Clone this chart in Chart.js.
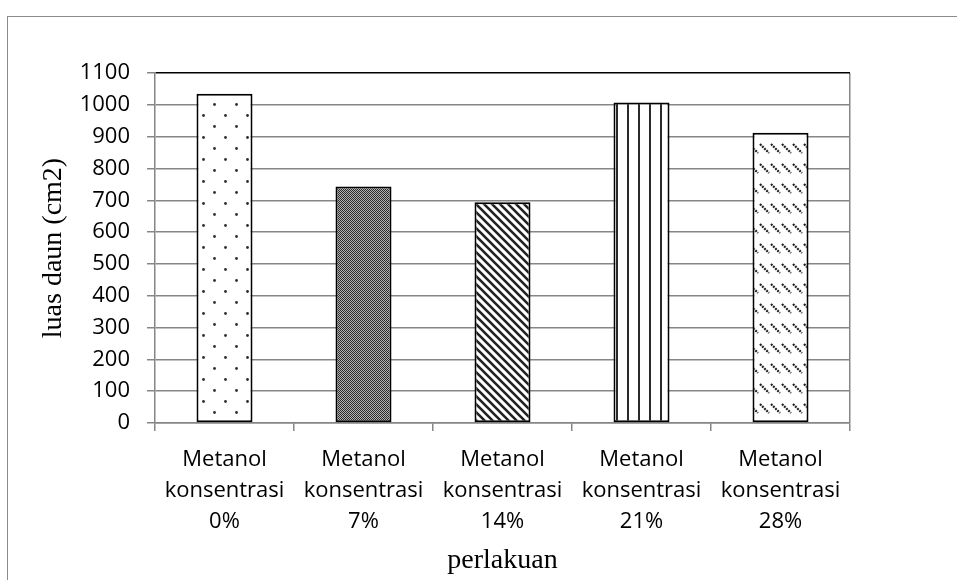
<!DOCTYPE html>
<html>
<head>
<meta charset="utf-8">
<script src="https://cdn.jsdelivr.net/npm/chart.js@4/dist/chart.umd.min.js"></script>
<style>
  html, body { margin: 0; padding: 0; background: #fff; overflow: hidden; }
  #frame { position: absolute; left: 7px; top: 16px; width: 2000px; height: 2000px; border: 1.5px solid #8c8c8c; }
  #wrap { position: absolute; left: 0; top: 0; width: 957px; height: 580px; }
</style>
</head>
<body>
<div id="frame"></div>
<div id="wrap"><canvas id="chart" width="957" height="580"></canvas></div>
<script>
// data
const categories = [
  ['Metanol', 'konsentrasi', '0%'],
  ['Metanol', 'konsentrasi', '7%'],
  ['Metanol', 'konsentrasi', '14%'],
  ['Metanol', 'konsentrasi', '21%'],
  ['Metanol', 'konsentrasi', '28%']
];
const luasDaun = [1035, 743, 694, 1007, 912];
const yMin = 0;
const yMax = 1100;
const yStep = 100;

const gridGray = '#868686';

// small canvas fill patterns like the excel ones
function makePattern(w, h, draw) {
  const c = document.createElement('canvas');
  c.width = w;
  c.height = h;
  const g = c.getContext('2d');
  g.fillStyle = '#fff';
  g.fillRect(0, 0, w, h);
  draw(g);
  return g.createPattern(c, 'repeat');
}

const dots = makePattern(22, 22, g => {
  g.fillStyle = '#2e2e2e';
  g.beginPath(); g.arc(5.5, 5.5, 1.4, 0, Math.PI * 2); g.fill();
  g.beginPath(); g.arc(16.5, 16.5, 1.4, 0, Math.PI * 2); g.fill();
});

const check = makePattern(2, 2, g => {
  g.fillStyle = '#b5b5b5';
  g.fillRect(0, 0, 2, 2);
  g.fillStyle = '#2a2a2a';
  g.fillRect(0, 0, 1, 1);
  g.fillRect(1, 1, 1, 1);
});

const diag = makePattern(8, 8, g => {
  g.strokeStyle = '#222';
  g.lineWidth = 2.6;
  g.beginPath();
  g.moveTo(-2, -2); g.lineTo(10, 10);
  g.moveTo(-10, -2); g.lineTo(2, 10);
  g.moveTo(6, -2); g.lineTo(18, 10);
  g.stroke();
});

const vert = makePattern(11, 11, g => {
  g.fillStyle = '#2a2a2a';
  g.fillRect(0, 0, 2, 11);
});

const dashDiag = makePattern(11, 20, g => {
  g.strokeStyle = '#222';
  g.lineWidth = 2.2;
  g.setLineDash([2, 1]);
  g.beginPath();
  g.moveTo(1, 4); g.lineTo(10, 13);
  g.stroke();
});

const ctx = document.getElementById('chart').getContext('2d');
new Chart(ctx, {
  type: 'bar',
  data: {
    labels: categories,
    datasets: [{
      label: 'luas daun',
      data: luasDaun,
      backgroundColor: [dots, check, diag, vert, dashDiag],
      borderColor: '#000',
      borderWidth: 2,
      borderSkipped: false,
      categoryPercentage: 1,
      barPercentage: 0.403
    }]
  },
  options: {
    responsive: false,
    animation: false,
    layout: {
      padding: { left: 0, right: 107, top: 73, bottom: 0 }
    },
    plugins: {
      legend: { display: false },
      tooltip: { enabled: false }
    },
    scales: {
      x: {
        offset: true,
        afterFit: s => { s.height = 157; },
        grid: {
          offset: true,
          drawOnChartArea: true,
          // only the closing line at the right edge shows inside the plot
          color: c => (c.type === 'scale' ? gridGray : 'transparent'),
          tickColor: gridGray,
          tickLength: 8,
          lineWidth: 1.5
        },
        border: { color: gridGray, width: 1.5 },
        ticks: {
          color: '#000',
          padding: 13,
          font: { family: 'Open Sans', size: 22, lineHeight: 1.41 },
          maxRotation: 0,
          autoSkip: false
        },
        title: {
          display: true,
          text: 'perlakuan',
          color: '#000',
          font: { family: 'Liberation Serif', size: 28, lineHeight: 1.2 },
          padding: { top: 0, bottom: 3 }
        }
      },
      y: {
        min: yMin,
        max: yMax,
        afterFit: s => { s.width = 155; },
        grid: {
          color: c => (c.tick && c.tick.value === yMax ? '#000' : gridGray),
          tickColor: gridGray,
          tickLength: 8,
          lineWidth: 1.5
        },
        border: { color: gridGray, width: 1.5 },
        ticks: {
          stepSize: yStep,
          color: '#000',
          padding: 17,
          font: { family: 'Open Sans', size: 22 },
          callback: v => String(v)
        },
        title: {
          display: true,
          text: 'luas daun (cm2)',
          color: '#000',
          font: { family: 'Liberation Serif', size: 28, lineHeight: 1.2 },
          padding: { top: 37, bottom: 0 }
        }
      }
    }
  }
});
</script>
</body>
</html>
